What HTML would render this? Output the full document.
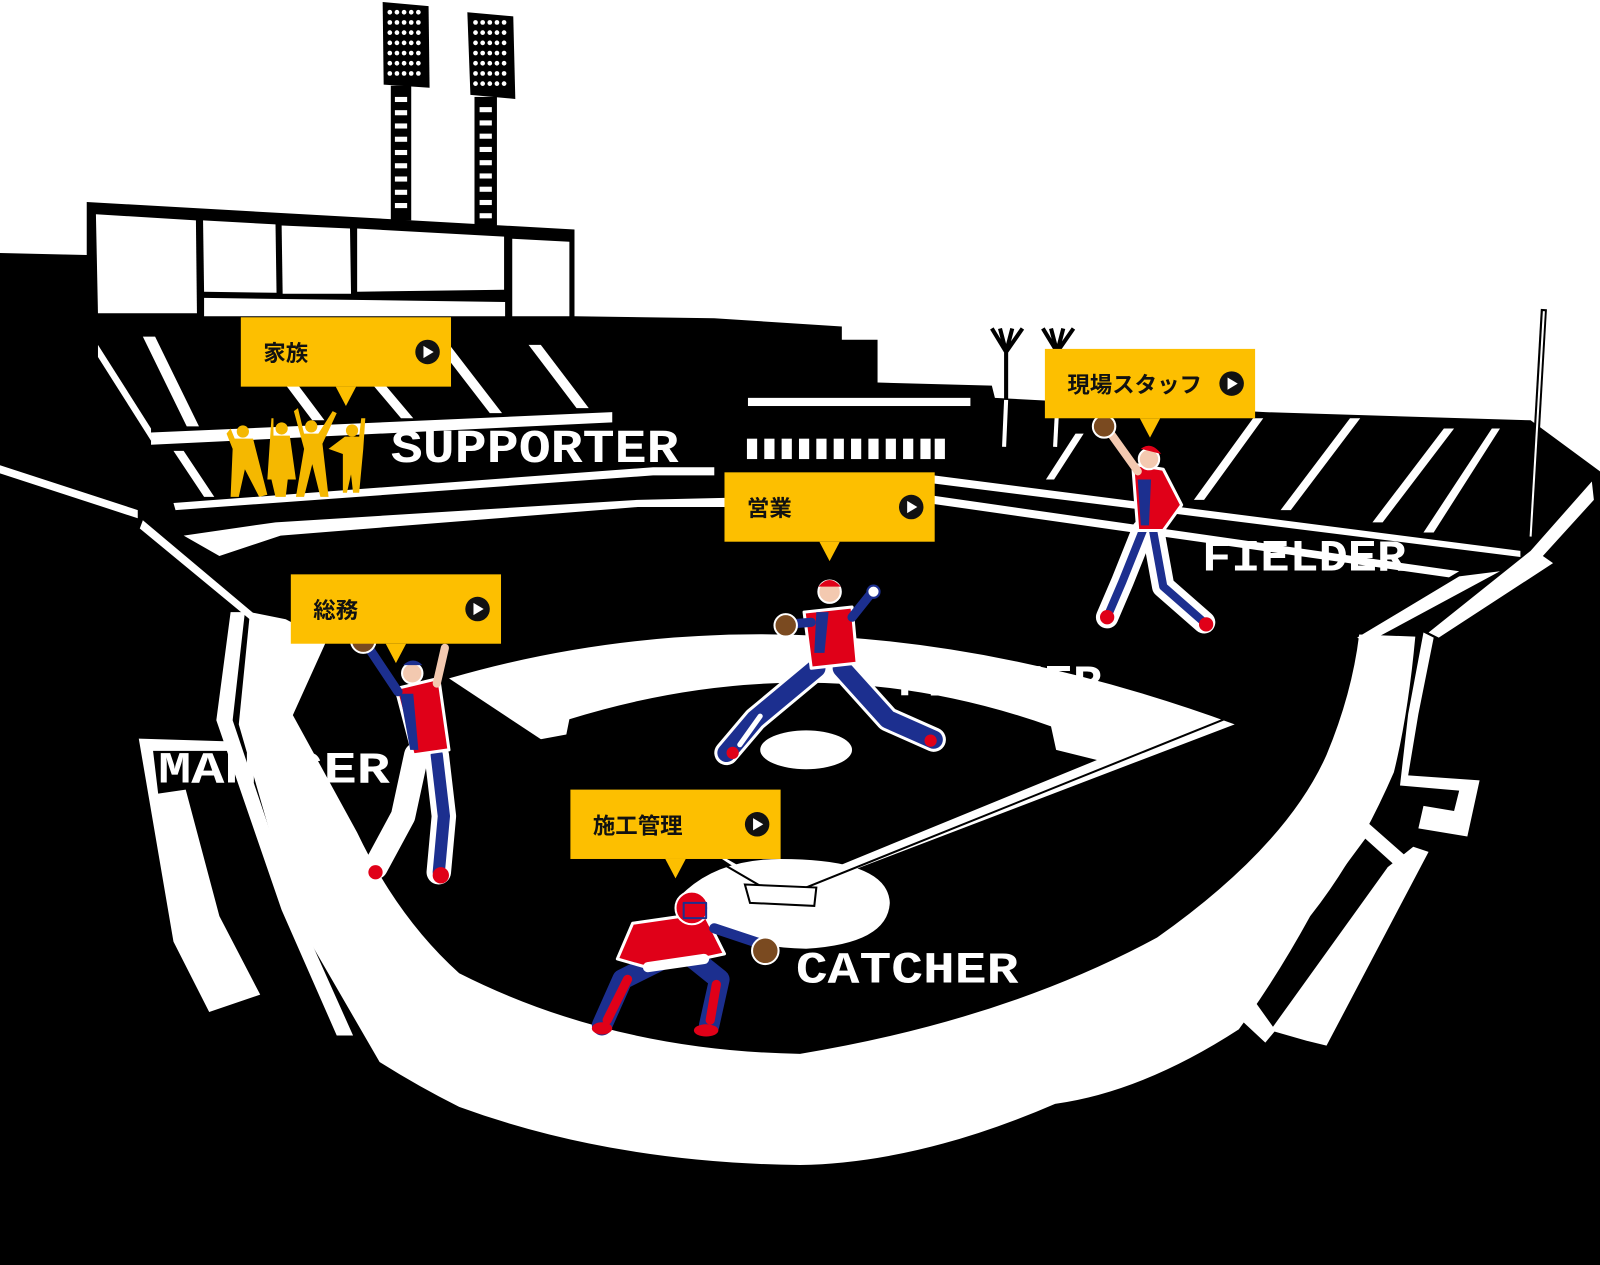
<!DOCTYPE html>
<html><head><meta charset="utf-8"><style>
html,body{margin:0;padding:0;background:#fff;}
svg{display:block;}
.lbl{font-family:"Liberation Sans","Noto Sans CJK JP",sans-serif;font-weight:bold;font-size:22px;fill:#111;}
.big{font-family:"Liberation Mono",monospace;font-weight:bold;fill:#fff;}
</style></head><body>
<svg width="1600" height="1265" viewBox="0 0 1568 1240" preserveAspectRatio="none" xmlns="http://www.w3.org/2000/svg">
<rect width="1568" height="1240" fill="#fff"/>
<polygon points="375,2 420,6 421,86 376,83" fill="#000"/>
<polygon points="458,12 503,16 505,97 461,93" fill="#000"/>
<rect x="383" y="84" width="20" height="132" fill="#000"/>
<rect x="465" y="95" width="22" height="126" fill="#000"/>
<!-- main black mass -->
<polygon points="0,248 85,250 85,198 563,225 563,310 700,312 825,320 825,333 860,333 860,375 972,378 975,390 1240,404 1500,412 1568,462 1568,1240 0,1240" fill="#000"/>
<g fill="#fff">
<polygon points="94,210 192,216 193,307 96,307"/>
<polygon points="199,216 270,220 271,287 200,286"/>
<polygon points="276,221 343,224 344,288 277,288"/>
<polygon points="350,224 494,232 494,284 350,286"/>
<polygon points="502,234 558,237 558,310 502,310"/>
<polygon points="200,292 495,296 495,310 200,310"/>
</g>
<g stroke="#000" stroke-width="4" fill="none">
<path d="M986,440 L986,345 M986,345 L972,322 M986,345 L980,322 M986,345 L992,322 M986,345 L1002,322"/>
<path d="M1036,440 L1036,345 M1036,345 L1022,322 M1036,345 L1030,322 M1036,345 L1042,322 M1036,345 L1052,322"/>
</g>
<g stroke="#fff" stroke-width="4"><line x1="986" y1="392" x2="984" y2="438"/><line x1="1036" y1="400" x2="1034" y2="438"/></g>
<line x1="1513" y1="303" x2="1500" y2="528" stroke="#000" stroke-width="6"/>
<line x1="1513" y1="305" x2="1500" y2="526" stroke="#fff" stroke-width="2"/>
<g fill="#fff">
<polygon points="96,338 148,420 148,432 96,350"/>
<polygon points="140,330 152,330 195,418 183,418"/>
<polygon points="430,340 442,340 492,405 480,405"/>
<polygon points="518,338 530,338 577,400 565,400"/>
<polygon points="276,372 288,372 318,412 306,412"/>
<polygon points="366,378 378,378 405,410 393,410"/>
<polygon points="148,424 600,404 600,414 148,436"/>
<polygon points="170,442 180,442 210,487 200,487"/>
<polygon points="170,493 640,458 700,458 700,466 640,466 172,500"/>
<polygon points="0,456 135,500 135,508 0,464"/>
<polygon points="180,525 270,512 625,490 710,488 710,497 625,497 275,525 215,545"/>
<polygon points="140,510 265,615 258,618 137,518"/>
</g>
<rect x="733" y="390" width="218" height="8" fill="#fff"/>
<g fill="#fff">
<rect x="732" y="430" width="10" height="20"/><rect x="749" y="430" width="10" height="20"/><rect x="766" y="430" width="10" height="20"/><rect x="783" y="430" width="10" height="20"/><rect x="800" y="430" width="10" height="20"/><rect x="817" y="430" width="10" height="20"/><rect x="834" y="430" width="10" height="20"/><rect x="851" y="430" width="10" height="20"/><rect x="868" y="430" width="10" height="20"/><rect x="885" y="430" width="10" height="20"/><rect x="902" y="430" width="10" height="20"/><rect x="916" y="430" width="10" height="20"/>
</g>
<g fill="#fff">
<polygon points="915,466 1490,540 1490,546 915,474"/>
<polygon points="915,486 1430,560 1420,566 915,494"/>
<polygon points="1025,470 1033,470 1062,425 1054,425"/>
<polygon points="1170,490 1180,490 1238,410 1228,410"/>
<polygon points="1255,500 1265,500 1333,410 1323,410"/>
<polygon points="1345,512 1355,512 1425,420 1415,420"/>
<polygon points="1395,522 1405,522 1470,420 1462,420"/>
<polygon points="1500,540 1560,472 1562,490 1512,545 1522,552 1410,625 1400,620"/>
<polygon points="1430,565 1470,560 1340,630 1330,625"/>
</g>
<!-- left outer fence line -->
<polygon points="226,600 240,600 228,706 290,890 346,1015 330,1015 276,892 212,706" fill="#fff"/>
<!-- manager frame -->
<polygon points="136,724 232,727 232,736 150,736 155,778 182,774 215,898 255,975 205,992 170,923" fill="#fff"/>
<!-- warning track band -->
<path d="M245,600 L280,607 L320,628 L287,701 L350,816 Q390,900 450,954 Q600,1030 784,1033 Q984,1000 1134,919 Q1260,830 1300,740 Q1325,680 1332,622 L1387,624 Q1380,700 1366,757 Q1330,840 1284,898 Q1250,960 1214,1009 Q1120,1070 1034,1082 Q900,1140 784,1142 Q600,1140 450,1085 Q410,1065 372,1041 L287,894 L234,710 Z" fill="#fff"/>
<g fill="#fff">
<polygon points="1395,620 1405,625 1390,700 1380,760 1450,765 1438,820 1390,812 1395,790 1425,795 1430,775 1372,770 1380,700"/>
<polygon points="1340,806 1390,850 1380,860 1338,822 1225,975 1250,1010 1240,1022 1195,980 1200,960"/>
<polygon points="1385,830 1400,835 1300,1025 1280,1020 1245,1010 1360,850"/>
</g>
<path d="M440,665 Q800,560 1210,710 L765,880 Z" fill="#fff"/>
<path d="M512,728 L555,720 L558,705 Q800,630 1030,712 L1035,735 L1075,745 L765,872 Z" fill="#000"/>
<ellipse cx="790" cy="735" rx="45" ry="19" fill="#fff"/>
<path d="M665,880 Q700,842 765,842 Q870,842 872,885 Q870,925 790,930 Q700,928 665,880 Z" fill="#fff"/>
<line x1="440" y1="690" x2="765" y2="880" stroke="#000" stroke-width="2"/>
<line x1="765" y1="880" x2="1200" y2="705" stroke="#000" stroke-width="2"/>
<polygon points="730,867 800,870 798,888 735,885" fill="#fff" stroke="#000" stroke-width="2"/>
<text class="big" x="383" y="453" font-size="46" textLength="282" lengthAdjust="spacingAndGlyphs">SUPPORTER</text>
<text class="big" x="155" y="767" font-size="44" textLength="227" lengthAdjust="spacingAndGlyphs">MANAGER</text>
<text class="big" x="880" y="682" font-size="44" textLength="200" lengthAdjust="spacingAndGlyphs">PITCHER</text>
<text class="big" x="1178" y="559" font-size="44" textLength="200" lengthAdjust="spacingAndGlyphs">FIELDER</text>
<text class="big" x="780" y="963" font-size="44" textLength="218" lengthAdjust="spacingAndGlyphs">CATCHER</text>
<g fill="#f5b800">
<circle cx="238" cy="423" r="6"/><polygon points="230,430 248,430 262,485 254,487 240,460 234,487 226,487 228,440 222,425 226,420"/>
<circle cx="276" cy="420" r="6"/><polygon points="268,427 284,427 290,470 282,470 280,487 270,487 266,470 262,470 266,410 268,410"/>
<circle cx="305" cy="418" r="6"/><polygon points="298,425 312,425 326,403 330,405 316,435 322,487 314,487 306,455 298,487 290,487 298,440 288,403 292,400"/>
<circle cx="345" cy="422" r="6"/><polygon points="338,428 352,428 354,410 358,410 356,440 352,483 346,483 344,465 340,483 336,483 336,445 322,440 338,428"/>
</g>
<g stroke-linecap="round" stroke-linejoin="round">
<path d="M800,655 L740,705 L712,738" stroke="#fff" stroke-width="24" fill="none"/>
<path d="M825,655 L870,705 L915,725" stroke="#fff" stroke-width="24" fill="none"/>
<path d="M800,655 L740,705 L712,738" stroke="#1c2f8f" stroke-width="18" fill="none"/>
<path d="M825,655 L870,705 L915,725" stroke="#1c2f8f" stroke-width="18" fill="none"/>
<path d="M745,702 L725,730" stroke="#fff" stroke-width="5"/>
<polygon points="788,600 835,595 840,650 795,655" fill="#e00018" stroke="#fff" stroke-width="3"/>
<polygon points="800,600 812,600 808,640 798,640" fill="#1c2f8f"/>
<path d="M795,610 L770,612" stroke="#1c2f8f" stroke-width="9"/>
<circle cx="770" cy="613" r="11" fill="#7a4a20" stroke="#fff" stroke-width="2"/>
<path d="M835,605 L855,580" stroke="#1c2f8f" stroke-width="9"/>
<circle cx="856" cy="580" r="6" fill="#fff" stroke="#1c2f8f" stroke-width="2"/>
<circle cx="813" cy="580" r="11" fill="#f3c9b0" stroke="#fff" stroke-width="2"/>
<path d="M802,575 Q813,562 824,575 Z" fill="#e00018"/>
<circle cx="718" cy="738" r="6" fill="#e00018"/><circle cx="912" cy="726" r="6" fill="#e00018"/>
</g>
<g stroke-linecap="round" stroke-linejoin="round">
<path d="M1120,520 L1100,570 L1085,605" stroke="#fff" stroke-width="22" fill="none"/>
<path d="M1130,520 L1140,575 L1180,610" stroke="#fff" stroke-width="22" fill="none"/>
<path d="M1120,520 L1100,570 L1085,605" stroke="#1c2f8f" stroke-width="8" fill="none"/>
<path d="M1130,520 L1140,575 L1180,610" stroke="#1c2f8f" stroke-width="8" fill="none"/>
<polygon points="1110,455 1140,460 1158,495 1140,520 1115,520" fill="#e00018" stroke="#fff" stroke-width="3"/>
<polygon points="1115,470 1128,470 1126,515 1118,515" fill="#1c2f8f"/>
<path d="M1115,462 L1085,420" stroke="#f3c9b0" stroke-width="8"/>
<circle cx="1082" cy="418" r="11" fill="#7a4a20" stroke="#fff" stroke-width="2"/>
<circle cx="1126" cy="450" r="10" fill="#f3c9b0" stroke="#fff" stroke-width="2"/>
<path d="M1118,440 Q1128,432 1138,445 Z" fill="#e00018"/>
<circle cx="1085" cy="605" r="7" fill="#e00018"/><circle cx="1182" cy="612" r="7" fill="#e00018"/>
</g>
<g stroke-linecap="round" stroke-linejoin="round">
<path d="M408,740 L395,800 L368,850" stroke="#fff" stroke-width="24" fill="none"/>
<path d="M428,740 L435,800 L430,855" stroke="#fff" stroke-width="24" fill="none"/>
<path d="M428,740 L435,800 L430,855" stroke="#1c2f8f" stroke-width="12" fill="none"/>
<polygon points="388,675 430,665 440,735 405,740" fill="#e00018" stroke="#fff" stroke-width="3"/>
<polygon points="392,680 405,680 410,735 402,735" fill="#1c2f8f"/>
<path d="M390,678 L358,630" stroke="#1c2f8f" stroke-width="9"/>
<circle cx="356" cy="628" r="12" fill="#7a4a20" stroke="#fff" stroke-width="2"/>
<path d="M428,670 L436,635" stroke="#f3c9b0" stroke-width="8"/>
<circle cx="404" cy="660" r="10" fill="#f3c9b0" stroke="#fff" stroke-width="2"/>
<path d="M395,652 Q405,643 414,652 Z" fill="#1c2f8f"/>
<circle cx="368" cy="855" r="7" fill="#e00018"/><circle cx="432" cy="858" r="8" fill="#e00018"/>
</g>
<g stroke-linecap="round" stroke-linejoin="round">
<path d="M650,940 L610,960 L590,1005" stroke="#1c2f8f" stroke-width="20" fill="none"/>
<path d="M680,940 L705,960 L695,1005" stroke="#1c2f8f" stroke-width="20" fill="none"/>
<path d="M615,960 L595,1000" stroke="#e00018" stroke-width="9"/>
<path d="M702,965 L696,1000" stroke="#e00018" stroke-width="9"/>
<polygon points="620,905 690,895 710,935 640,950 605,940" fill="#e00018" stroke="#fff" stroke-width="3"/>
<path d="M635,948 L690,940" stroke="#fff" stroke-width="10"/>
<path d="M700,910 L745,925" stroke="#1c2f8f" stroke-width="10"/>
<circle cx="750" cy="932" r="13" fill="#7a4a20" stroke="#fff" stroke-width="2"/>
<circle cx="678" cy="890" r="16" fill="#e00018" stroke="#fff" stroke-width="2"/>
<rect x="670" y="885" width="22" height="15" fill="none" stroke="#1c2f8f" stroke-width="2"/>
<ellipse cx="590" cy="1008" rx="10" ry="6" fill="#e00018"/><ellipse cx="692" cy="1010" rx="12" ry="6" fill="#e00018"/>
</g>
<g>
<g transform="translate(236,311)"><rect width="206" height="68" fill="#fdbf00"/><polygon points="93,68 113,68 103,87" fill="#fdbf00"/><text class="lbl" x="22" y="43">家族</text><circle cx="183" cy="34" r="12" fill="#111"/><polygon points="179,28 179,40 189,34" fill="#fff"/></g>
<g transform="translate(1024,342)"><rect width="206" height="68" fill="#fdbf00"/><polygon points="93,68 113,68 103,87" fill="#fdbf00"/><text class="lbl" x="22" y="43">現場スタッフ</text><circle cx="183" cy="34" r="12" fill="#111"/><polygon points="179,28 179,40 189,34" fill="#fff"/></g>
<g transform="translate(710,463)"><rect width="206" height="68" fill="#fdbf00"/><polygon points="93,68 113,68 103,87" fill="#fdbf00"/><text class="lbl" x="22" y="43">営業</text><circle cx="183" cy="34" r="12" fill="#111"/><polygon points="179,28 179,40 189,34" fill="#fff"/></g>
<g transform="translate(285,563)"><rect width="206" height="68" fill="#fdbf00"/><polygon points="93,68 113,68 103,87" fill="#fdbf00"/><text class="lbl" x="22" y="43">総務</text><circle cx="183" cy="34" r="12" fill="#111"/><polygon points="179,28 179,40 189,34" fill="#fff"/></g>
<g transform="translate(559,774)"><rect width="206" height="68" fill="#fdbf00"/><polygon points="93,68 113,68 103,87" fill="#fdbf00"/><text class="lbl" x="22" y="43">施工管理</text><circle cx="183" cy="34" r="12" fill="#111"/><polygon points="179,28 179,40 189,34" fill="#fff"/></g>
</g>
<g fill="#fff">
<circle cx="382" cy="12" r="2.3"/><circle cx="389" cy="12" r="2.3"/><circle cx="396" cy="12" r="2.3"/><circle cx="403" cy="12" r="2.3"/><circle cx="410" cy="12" r="2.3"/>
<circle cx="382" cy="22" r="2.3"/><circle cx="389" cy="22" r="2.3"/><circle cx="396" cy="22" r="2.3"/><circle cx="403" cy="22" r="2.3"/><circle cx="410" cy="22" r="2.3"/>
<circle cx="382" cy="32" r="2.3"/><circle cx="389" cy="32" r="2.3"/><circle cx="396" cy="32" r="2.3"/><circle cx="403" cy="32" r="2.3"/><circle cx="410" cy="32" r="2.3"/>
<circle cx="382" cy="42" r="2.3"/><circle cx="389" cy="42" r="2.3"/><circle cx="396" cy="42" r="2.3"/><circle cx="403" cy="42" r="2.3"/><circle cx="410" cy="42" r="2.3"/>
<circle cx="382" cy="52" r="2.3"/><circle cx="389" cy="52" r="2.3"/><circle cx="396" cy="52" r="2.3"/><circle cx="403" cy="52" r="2.3"/><circle cx="410" cy="52" r="2.3"/>
<circle cx="382" cy="62" r="2.3"/><circle cx="389" cy="62" r="2.3"/><circle cx="396" cy="62" r="2.3"/><circle cx="403" cy="62" r="2.3"/><circle cx="410" cy="62" r="2.3"/>
<circle cx="382" cy="72" r="2.3"/><circle cx="389" cy="72" r="2.3"/><circle cx="396" cy="72" r="2.3"/><circle cx="403" cy="72" r="2.3"/><circle cx="410" cy="72" r="2.3"/>
<circle cx="466" cy="22" r="2.3"/><circle cx="473" cy="22" r="2.3"/><circle cx="480" cy="22" r="2.3"/><circle cx="487" cy="22" r="2.3"/><circle cx="494" cy="22" r="2.3"/>
<circle cx="466" cy="32" r="2.3"/><circle cx="473" cy="32" r="2.3"/><circle cx="480" cy="32" r="2.3"/><circle cx="487" cy="32" r="2.3"/><circle cx="494" cy="32" r="2.3"/>
<circle cx="466" cy="42" r="2.3"/><circle cx="473" cy="42" r="2.3"/><circle cx="480" cy="42" r="2.3"/><circle cx="487" cy="42" r="2.3"/><circle cx="494" cy="42" r="2.3"/>
<circle cx="466" cy="52" r="2.3"/><circle cx="473" cy="52" r="2.3"/><circle cx="480" cy="52" r="2.3"/><circle cx="487" cy="52" r="2.3"/><circle cx="494" cy="52" r="2.3"/>
<circle cx="466" cy="62" r="2.3"/><circle cx="473" cy="62" r="2.3"/><circle cx="480" cy="62" r="2.3"/><circle cx="487" cy="62" r="2.3"/><circle cx="494" cy="62" r="2.3"/>
<circle cx="466" cy="72" r="2.3"/><circle cx="473" cy="72" r="2.3"/><circle cx="480" cy="72" r="2.3"/><circle cx="487" cy="72" r="2.3"/><circle cx="494" cy="72" r="2.3"/>
<circle cx="466" cy="82" r="2.3"/><circle cx="473" cy="82" r="2.3"/><circle cx="480" cy="82" r="2.3"/><circle cx="487" cy="82" r="2.3"/><circle cx="494" cy="82" r="2.3"/>
<rect x="387" y="95" width="12" height="5"/><rect x="387" y="108" width="12" height="5"/><rect x="387" y="121" width="12" height="5"/><rect x="387" y="134" width="12" height="5"/><rect x="387" y="147" width="12" height="5"/><rect x="387" y="160" width="12" height="5"/><rect x="387" y="173" width="12" height="5"/><rect x="387" y="186" width="12" height="5"/><rect x="387" y="199" width="12" height="5"/>
<rect x="470" y="105" width="12" height="5"/><rect x="470" y="118" width="12" height="5"/><rect x="470" y="131" width="12" height="5"/><rect x="470" y="144" width="12" height="5"/><rect x="470" y="157" width="12" height="5"/><rect x="470" y="170" width="12" height="5"/><rect x="470" y="183" width="12" height="5"/><rect x="470" y="196" width="12" height="5"/><rect x="470" y="209" width="12" height="5"/>
</g>
</svg>
</body></html>
